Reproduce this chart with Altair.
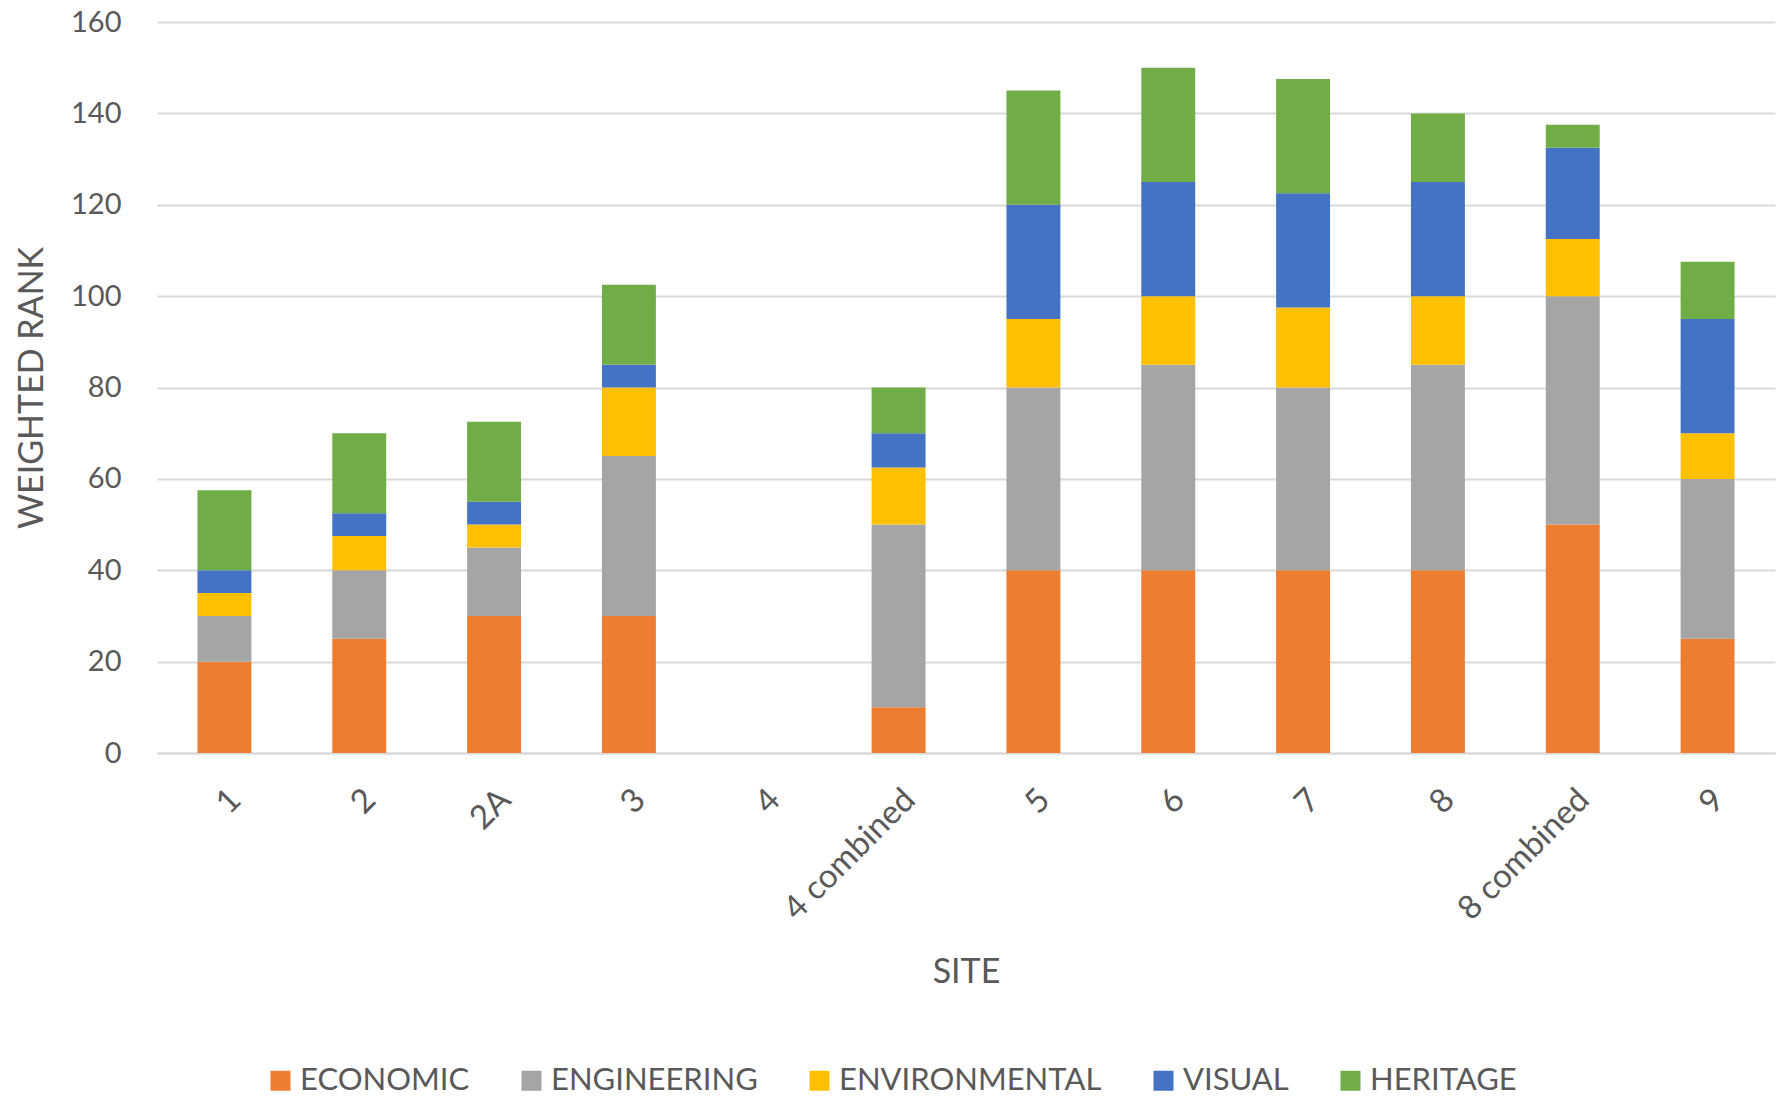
import altair as alt
import pandas as pd

sites = ["1", "2", "2A", "3", "4", "4 combined", "5", "6", "7", "8", "8 combined", "9"]
categories = ["ECONOMIC", "ENGINEERING", "ENVIRONMENTAL", "VISUAL", "HERITAGE"]
colors = ["#ED7D31", "#A5A5A5", "#FFC000", "#4472C4", "#70AD47"]

economic = [20, 25, 30, 30, 0, 10, 40, 40, 40, 40, 50, 25]
engineering = [10, 15, 15, 35, 0, 40, 40, 45, 40, 45, 50, 35]
environmental = [5, 7.5, 5, 15, 0, 12.5, 15, 15, 17.5, 15, 12.5, 10]
visual = [5, 5, 5, 5, 0, 7.5, 25, 25, 25, 25, 20, 25]
heritage = [17.5, 17.5, 17.5, 17.5, 0, 10, 25, 25, 25, 15, 5, 12.5]

series = [economic, engineering, environmental, visual, heritage]
rows = []
for ci, (cat, vals) in enumerate(zip(categories, series)):
    for s, v in zip(sites, vals):
        if v > 0:
            rows.append({"site": s, "category": cat, "value": v, "order": ci})
df = pd.DataFrame(rows)

FONT = "Lato"
TXT = "#595959"
W, H = 1618, 731

chart = alt.Chart(df).mark_bar().encode(
    x=alt.X("site:N", sort=sites,
            scale=alt.Scale(domain=sites, paddingInner=0.6, paddingOuter=0.3),
            axis=alt.Axis(title="SITE", labelAngle=-45, labelFontSize=33, labelColor=TXT,
                          labelFont=FONT, labelPadding=30, ticks=False, grid=False,
                          domainColor="#D9D9D9", domainWidth=2,
                          titleFont=FONT, titleFontSize=34, titleColor=TXT,
                          titleFontWeight="normal", titleY=219, titleBaseline="middle")),
    y=alt.Y("value:Q", stack="zero",
            scale=alt.Scale(domain=[0, 160]),
            axis=alt.Axis(title="WEIGHTED RANK", values=list(range(0, 161, 20)),
                          labelFontSize=29, labelColor=TXT, labelFont=FONT, labelPadding=36,
                          ticks=False, domain=False, gridColor="#D9D9D9", gridWidth=2,
                          titleFont=FONT, titleFontSize=34, titleColor=TXT,
                          titleFontWeight="normal", titleX=-125, titleBaseline="middle")),
    color=alt.Color("category:N", sort=categories,
                    scale=alt.Scale(domain=categories, range=colors),
                    legend=alt.Legend(title=None, orient="none", direction="horizontal",
                                      columns=5, legendX=108, legendY=1043,
                                      symbolType="square", symbolSize=400,
                                      symbolStrokeWidth=0, symbolOpacity=1,
                                      labelFont=FONT, labelFontSize=31, labelColor=TXT,
                                      labelLimit=400, labelOffset=4, columnPadding=46)),
    order=alt.Order("order:Q", sort="ascending"),
).properties(
    width=W, height=H,
    background="white",
    autosize=alt.AutoSizeParams(type="none"),
    padding={"left": 157, "top": 22, "right": 12, "bottom": 348},
).configure_view(stroke=None)

chart.save("out.html", embed_options={"renderer": "svg", "actions": False})
